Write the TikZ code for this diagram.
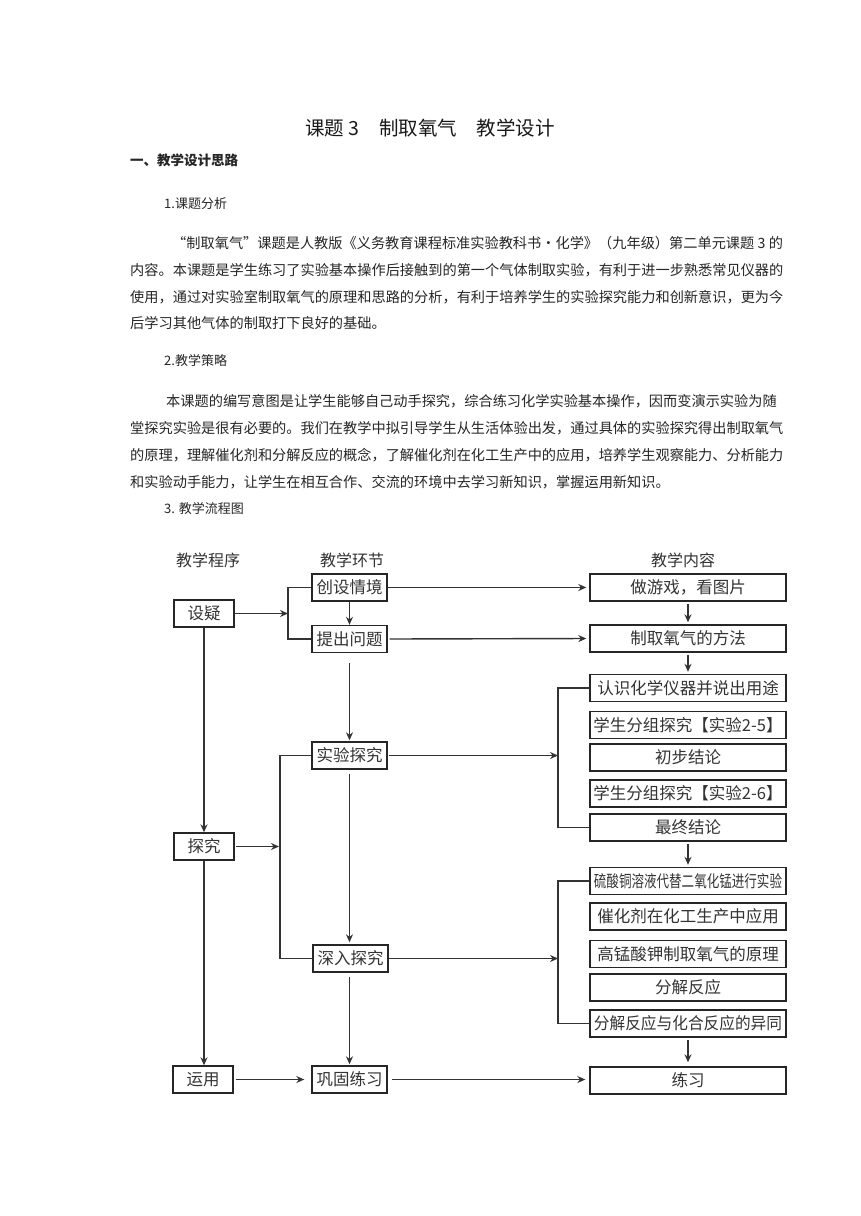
\documentclass[tikz,border=0pt]{standalone}
\usepackage{fontspec}
\setmainfont{Noto Sans CJK SC}
\usetikzlibrary{arrows.meta}
\XeTeXlinebreaklocale "zh"
\XeTeXlinebreakskip=0pt plus 2pt
\newcommand{\bodyfs}{\fontsize{14.2}{16}\selectfont}
\newcommand{\boxfs}{\fontsize{16.5}{18}\selectfont}
\tikzset{
  every node/.style={inner sep=0pt},
  txt/.style={anchor=west, font=\bodyfs, text=black!85},
  bx/.style={draw=black!85, line width=1.4pt, minimum height=27pt, font=\boxfs, text=black!80},
  lb/.style={bx, minimum width=60pt},
  mb/.style={bx, minimum width=75pt},
  rb/.style={bx, minimum width=196pt},
  hd/.style={font=\fontsize{16}{18}\selectfont, text=black!80},
  ln/.style={draw=black!80, line width=1.4pt},
  arr/.style={ln, -{Stealth[length=8pt,width=7pt]}}
}
\begin{document}
\begin{tikzpicture}[x=1pt,y=-1pt]
\useasboundingbox[fill=white] (0,0) rectangle (860,1216);
% ---------- text ----------
\node[font=\fontsize{19.5}{22}\selectfont, text=black!90] (title) at (430,128) {课题 3\quad 制取氧气\quad 教学设计};
\node[txt, font=\fontsize{13.5}{16}\selectfont\bfseries] (h1) at (130,160) {一、教学设计思路};
\node[txt, font=\fontsize{13}{16}\selectfont] (h11) at (164,204) {1.课题分析};
\node[txt] (p1a) at (172,243) {\makebox[611pt][s]{“制取氧气”课题是人教版《义务教育课程标准实验教科书·化学》（九年级）第二单元课题 3 的}};
\node[txt] (p1b) at (130,270) {\makebox[653pt][s]{内容。本课题是学生练习了实验基本操作后接触到的第一个气体制取实验，有利于进一步熟悉常见仪器的}};
\node[txt] (p1c) at (130,297) {\makebox[653pt][s]{使用，通过对实验室制取氧气的原理和思路的分析，有利于培养学生的实验探究能力和创新意识，更为今}};
\node[txt] (p1d) at (130,323) {后学习其他气体的制取打下良好的基础。};
\node[txt, font=\fontsize{13}{16}\selectfont] (h12) at (164,361) {2.教学策略};
\node[txt] (p2a) at (166,401) {\makebox[617pt][s]{本课题的编写意图是让学生能够自己动手探究，综合练习化学实验基本操作，因而变演示实验为随}};
\node[txt] (p2b) at (130,428) {\makebox[653pt][s]{堂探究实验是很有必要的。我们在教学中拟引导学生从生活体验出发，通过具体的实验探究得出制取氧气}};
\node[txt] (p2c) at (130,455) {\makebox[653pt][s]{的原理，理解催化剂和分解反应的概念，了解催化剂在化工生产中的应用，培养学生观察能力、分析能力}};
\node[txt] (p2d) at (130,482) {和实验动手能力，让学生在相互合作、交流的环境中去学习新知识，掌握运用新知识。};
\node[txt, font=\fontsize{13}{16}\selectfont] (h13) at (164,509) {3. 教学流程图};
% ---------- headers ----------
\node[hd] (hl) at (208,560) {教学程序};
\node[hd] (hm) at (352,560) {教学环节};
\node[hd] (hr) at (683,560) {教学内容};
% ---------- left column ----------
\node[lb] (sy) at (204,613.5) {设疑};
\node[lb] (tj) at (204,846.5) {探究};
\node[lb] (yy) at (203,1079.5) {运用};
% ---------- middle column ----------
\node[mb] (cs) at (349.5,587.5) {创设情境};
\node[mb] (tw) at (349.5,639) {提出问题};
\node[mb] (sj) at (349.5,755.5) {实验探究};
\node[mb] (sr) at (350.5,958.5) {深入探究};
\node[mb] (gg) at (349.5,1079.5) {巩固练习};
% ---------- right column ----------
\node[rb] (r1) at (688,587.5) {做游戏，看图片};
\node[rb] (r2) at (688,638.5) {制取氧气的方法};
\node[rb] (r3) at (688,688) {认识化学仪器并说出用途};
\node[rb] (r4) at (688,725) {学生分组探究【实验2-5】};
\node[rb] (r5) at (688,757.5) {初步结论};
\node[rb] (r6) at (688,793.5) {学生分组探究【实验2-6】};
\node[rb] (r7) at (688,827.5) {最终结论};
\node[rb] (r8) at (688,881) {\scalebox{0.76}[1]{硫酸铜溶液代替二氧化锰进行实验}};
\node[rb] (r9) at (688,916.5) {催化剂在化工生产中应用};
\node[rb] (r10) at (688,954) {高锰酸钾制取氧气的原理};
\node[rb] (r11) at (688,987.5) {分解反应};
\node[rb] (r12) at (688,1023.5) {\scalebox{0.95}[1]{分解反应与化合反应的异同}};
\node[rb] (r13) at (688,1080.5) {练习};
% ---------- bracket points ----------
\coordinate (b1) at (288,613.5);
\coordinate (b2) at (558,755.5);
\coordinate (b3) at (280,846.5);
\coordinate (b4) at (558,958.5);
% ---------- connectors ----------
\draw[ln] (cs.west) -| (b1) |- (tw.west);
\draw[arr] (sy.east) -- (b1);
\draw[arr] (cs.south) -- (tw.north);
\draw[arr, shorten >=3pt] (cs.east) -- (r1.west);
\draw[arr, shorten >=3pt, shorten <=2pt] (tw.east) -- (r2.west);
\draw[arr, shorten <=2pt, shorten >=2pt] (r1.south) -- (r2.north);
\draw[arr, shorten <=2pt, shorten >=2pt] (r2.south) -- (r3.north);
\draw[arr, shorten <=10pt, shorten >=1pt] (tw.south) -- (sj.north);
\draw[ln] (r3.west) -| (b2) |- (r7.west);
\draw[arr, shorten <=1pt] (sj.east) -- (b2);
\draw[arr, shorten <=2pt, shorten >=2pt] (r7.south) -- (r8.north);
\draw[arr] (sy.south) -- (tj.north);
\draw[ln] (sj.west) -| (b3) |- (sr.west);
\draw[arr, shorten <=1pt, shorten >=1pt] (tj.east) -- (b3);
\draw[arr, shorten <=4pt, shorten >=2pt] (sj.south) -- (sr.north -| sj.south);
\draw[ln] (r8.west) -| (b4) |- (r12.west);
\draw[arr] (sr.east) -- (b4);
\draw[arr, shorten <=2pt, shorten >=4pt] (r12.south) -- (r13.north);
\draw[arr] (tj.south) -- (yy.north -| tj.south);
\draw[arr, shorten <=4pt, shorten >=1pt] (sr.south -| gg.north) -- (gg.north);
\draw[arr, shorten <=2pt, shorten >=7pt] (yy.east) -- (gg.west);
\draw[arr, shorten <=4pt, shorten >=4pt] (gg.east) -- (gg.east -| r13.west);
\end{tikzpicture}
\end{document}
